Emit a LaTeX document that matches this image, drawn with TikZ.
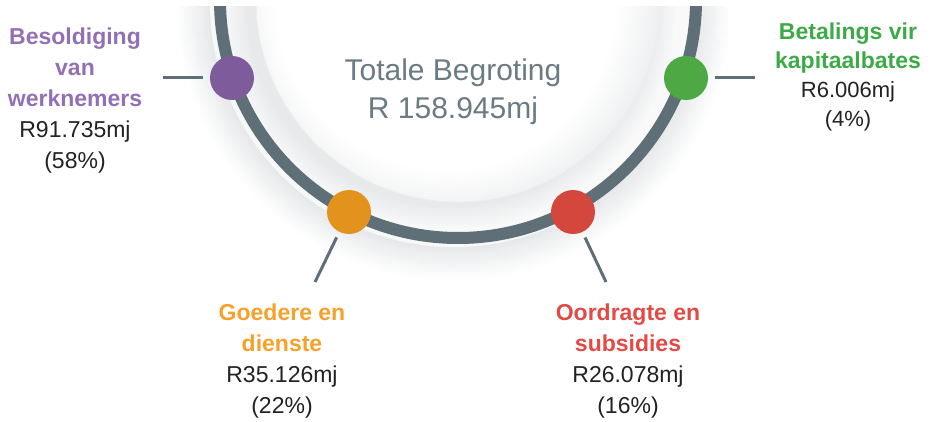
\documentclass[tikz,border=0pt]{standalone}
\usepackage{fontspec}
\setmainfont{Liberation Sans}
\definecolor{arcgray}{HTML}{5F6F78}
\definecolor{centertext}{HTML}{6B7B84}
\definecolor{numtext}{HTML}{222222}
\definecolor{purpledot}{HTML}{7E5C9C}
\definecolor{orangedot}{HTML}{E3921E}
\definecolor{reddot}{HTML}{D4473C}
\definecolor{greendot}{HTML}{4EA945}
\definecolor{purpletext}{HTML}{9370B4}
\definecolor{orangetext}{HTML}{F5A12A}
\definecolor{redtext}{HTML}{E24A45}
\definecolor{greentext}{HTML}{3DAA47}
\newcommand\catname[2]{{\color{#1}\bfseries #2}}
\begin{document}
\begin{tikzpicture}[x=1pt,y=-1pt,
  dot/.style={circle,minimum size=44pt,inner sep=0pt,draw=none},
  conn/.style={arcgray,line width=3pt},
  lbl/.style={anchor=north,align=center,inner sep=0pt,text=numtext,font=\fontsize{23}{31}\selectfont},
  lblsmall/.style={anchor=north,align=center,inner sep=0pt,text=numtext,font=\fontsize{22}{29}\selectfont}]
\useasboundingbox (0,0) rectangle (933,422);
\begin{scope}
  \clip (0,7) rectangle (933,422);
  % soft shadow around the ring
  \foreach \r in {280,279,...,232}{
    \pgfmathsetmacro\p{\r>244 ? max(0,16*(278-\r)/34) : 5}
    \fill[arcgray!\p!white] (454,3) circle[radius=\r];
  }
  % band between disk and ring, with the disk's shadow
  \fill[arcgray!4!white] (458,0) circle[radius=232];
  \begin{scope}
    \clip (458,0) circle[radius=232];
    \foreach \r in {228,227,...,203}{
      \pgfmathsetmacro\p{4+11*(228-\r)/25}
      \fill[arcgray!\p!white] (450,3) circle[radius=\r];
    }
  \end{scope}
  % inner disk
  \fill[white] (458,0) circle[radius=202];
  \begin{scope}
    \clip (458,0) circle[radius=202];
    \foreach \r in {216,215,...,170}{
      \pgfmathsetmacro\p{max(0,11*(\r-170)/46)}
      \fill[arcgray!\p!white] (446,0) circle[radius=\r];
    }
  \end{scope}
  \draw[arcgray!12!white,line width=0.8pt] (458,0) circle[radius=202];
  \draw[arcgray,line width=12pt] (458,0) ++(180:238) arc[start angle=180,end angle=0,radius=238];
\end{scope}
\node[anchor=north,align=center,inner sep=0pt,text=centertext,font=\fontsize{30}{38}\selectfont] (total) at (453,58.5) {Totale Begroting\\R 158.945mj};
% dots
\node[dot,fill=purpledot] (pdot) at (232,78) {};
\node[dot,fill=orangedot] (odot) at (349,212) {};
\node[dot,fill=reddot] (rdot) at (573,212) {};
\node[dot,fill=greendot] (gdot) at (686,78) {};
% connector ends
\coordinate (pend) at (163,78);
\coordinate (oend) at (315,282);
\coordinate (rend) at (606,282);
\coordinate (gend) at (755,78);
\draw[conn,shorten <=7pt] (pdot) -- (pend);
\draw[conn,shorten <=6pt] (odot) -- (oend);
\draw[conn,shorten <=6pt] (rdot) -- (rend);
\draw[conn,shorten <=7pt] (gdot) -- (gend);
% labels
\node[lbl] (plabel) at (75,27.5) {\catname{purpletext}{Besoldiging}\\\catname{purpletext}{van}\\\catname{purpletext}{werknemers}\\R91.735mj\\(58\%)};
\node[lbl] (olabel) at (282,303.5) {\catname{orangetext}{Goedere en}\\\catname{orangetext}{dienste}\\R35.126mj\\(22\%)};
\node[lbl] (rlabel) at (628,303.5) {\catname{redtext}{Oordragte en}\\\catname{redtext}{subsidies}\\R26.078mj\\(16\%)};
\node[lblsmall] (glabel) at (848,23) {\catname{greentext}{\fontsize{23}{29}\selectfont Betalings vir}\\\catname{greentext}{\fontsize{23}{29}\selectfont kapitaalbates}\\R6.006mj\\(4\%)};
\end{tikzpicture}
\end{document}
